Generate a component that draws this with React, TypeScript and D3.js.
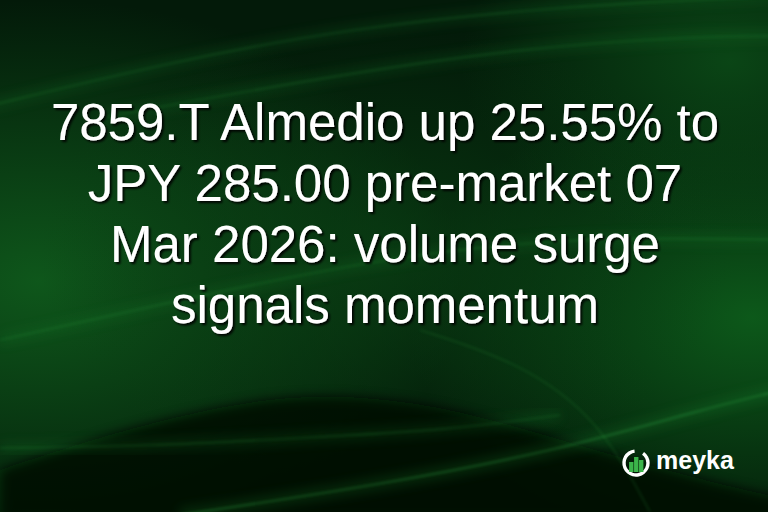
import * as React from "react";
import * as d3 from "d3";

// headline lines, as set on the card
const titleLines = [
  "7859.T Almedio up 25.55% to",
  "JPY 285.00 pre-market 07",
  "Mar 2026: volume surge",
  "signals momentum",
];
const brand = "meyka";
const logoBars = [10, 15, 12];

// background light streaks (x, y) pairs
const streakA: [number, number][] = [[-20, 108], [170, 62], [350, 28], [560, 6], [780, -4]];
const streakB: [number, number][] = [[100, 118], [330, 76], [520, 48], [700, 36], [790, 36]];
const streakC: [number, number][] = [[0, 340], [180, 300], [360, 262], [560, 236], [790, 240]];
const streakD: [number, number][] = [[180, 515], [380, 485], [560, 450], [700, 410], [790, 388]];
const streakE: [number, number][] = [[0, 448], [150, 446], [300, 438], [450, 430], [560, 415]];
const streakF: [number, number][] = [[420, 330], [520, 362], [600, 420], [650, 512]];
const darkHump: [number, number][] = [[0, 470], [120, 430], [260, 397], [360, 395], [460, 410], [560, 440], [700, 480], [790, 500]];

const W = 768;
const H = 512;

export default function App() {
  const line = d3.line<[number, number]>().curve(d3.curveBasis);
  const hump = d3.area<[number, number]>().x((d) => d[0]).y0(H + 10).y1((d) => d[1]).curve(d3.curveBasis);

  const cx = 636;
  const cy = 463;
  const r = 12;
  const barX = d3.scaleBand<number>().domain(d3.range(logoBars.length)).range([cx - 7.5, cx + 8]).padding(0.12);
  const arc = d3.arc()({ innerRadius: r - 1.7, outerRadius: r + 1.7, startAngle: Math.PI * 0.2, endAngle: Math.PI * 2 - 0.12 }) ?? "";

  return (
    <svg width={W} height={H} style={{ position: "absolute", left: 0, top: 0, display: "block" }}>
      <defs>
        <radialGradient id="gLeft" cx="0.05" cy="0.55" r="0.55">
          <stop offset="0" stopColor="#0f5a1c" stopOpacity={0.95} />
          <stop offset="1" stopColor="#0f5a1c" stopOpacity={0} />
        </radialGradient>
        <radialGradient id="gRight" cx="0.98" cy="0.62" r="0.45">
          <stop offset="0" stopColor="#0d5c1b" stopOpacity={0.95} />
          <stop offset="1" stopColor="#0d5c1b" stopOpacity={0} />
        </radialGradient>
        <radialGradient id="gTopR" cx="0.95" cy="0.12" r="0.35">
          <stop offset="0" stopColor="#0b4a17" stopOpacity={0.9} />
          <stop offset="1" stopColor="#0b4a17" stopOpacity={0} />
        </radialGradient>
        <radialGradient id="gMid" cx="0.5" cy="0.5" r="0.45">
          <stop offset="0" stopColor="#0a4214" stopOpacity={0.7} />
          <stop offset="1" stopColor="#0a4214" stopOpacity={0} />
        </radialGradient>
        <filter id="blur6" x="-20%" y="-20%" width="140%" height="140%">
          <feGaussianBlur stdDeviation="6" />
        </filter>
        <filter id="blur2" x="-20%" y="-20%" width="140%" height="140%">
          <feGaussianBlur stdDeviation="1.5" />
        </filter>
        <filter id="shadow" x="-10%" y="-10%" width="120%" height="130%">
          <feDropShadow dx="2" dy="2" stdDeviation="1.2" floodColor="#000" floodOpacity={0.9} />
        </filter>
      </defs>

      <rect width={W} height={H} fill="#031a09" />
      <rect width={W} height={H} fill="url(#gLeft)" />
      <rect width={W} height={H} fill="url(#gRight)" />
      <rect width={W} height={H} fill="url(#gTopR)" />
      <rect width={W} height={H} fill="url(#gMid)" />

      <path d={hump(darkHump) ?? ""} fill="#010d04" opacity={0.85} filter="url(#blur6)" />

      {[streakA, streakB, streakC, streakE].map((s, i) => (
        <g key={i}>
          <path d={line(s) ?? ""} fill="none" stroke="#1f8a32" strokeWidth={10} opacity={0.18} filter="url(#blur6)" />
          <path d={line(s) ?? ""} fill="none" stroke="#2a9a3c" strokeWidth={1.2} opacity={0.35} filter="url(#blur2)" />
        </g>
      ))}
      <path d={line(streakD) ?? ""} fill="none" stroke="#1f8a32" strokeWidth={12} opacity={0.22} filter="url(#blur6)" />
      <path d={line(streakD) ?? ""} fill="none" stroke="#35b04a" strokeWidth={1.4} opacity={0.45} filter="url(#blur2)" />
      <path d={line(streakF) ?? ""} fill="none" stroke="#2a9a3c" strokeWidth={1.2} opacity={0.3} filter="url(#blur2)" />

      <g filter="url(#shadow)">
        {titleLines.map((t, i) => (
          <text
            key={i}
            x={W / 2 + 1}
            y={140 + i * 61}
            textAnchor="middle"
            fill="#ffffff"
            fontFamily="'Liberation Sans', Arial, sans-serif"
            fontSize={51}
          >
            {t}
          </text>
        ))}
      </g>

      <g>
        <path d={arc} transform={`translate(${cx},${cy})`} fill="#ffffff" />
        {logoBars.map((h, i) => (
          <rect key={i} x={barX(i)} y={cy + 9 - h} width={barX.bandwidth()} height={h} fill="#3bb54a" />
        ))}
        <text x={656} y={469} fill="#ffffff" fontFamily="'Liberation Sans', Arial, sans-serif" fontWeight="bold" fontSize={25}>
          {brand}
        </text>
      </g>
    </svg>
  );
}
